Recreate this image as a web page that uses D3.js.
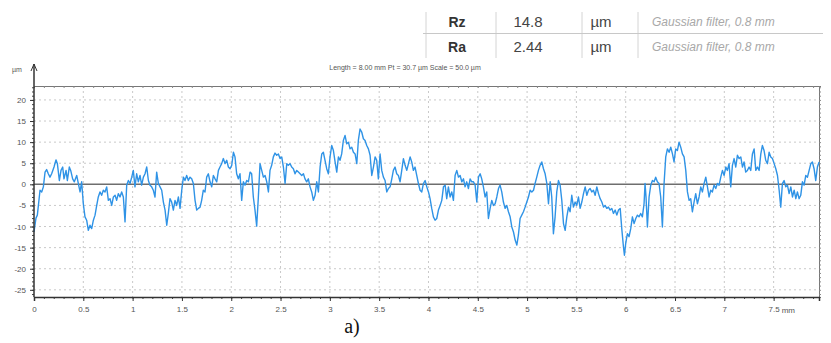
<!DOCTYPE html>
<html>
<head>
<meta charset="utf-8">
<script src="https://cdn.jsdelivr.net/npm/d3@7/dist/d3.min.js"></script>
<style>
  html, body { margin: 0; padding: 0; background: #fff; }
  svg { display: block; font-family: 'Liberation Sans', Arial, sans-serif; }
</style>
</head>
<body>
<div id="chart"></div>
<script>
// roughness profile: [position mm, height µm]
const profile = [
  [0.000,-11.3],[0.020,-8.0],[0.034,-7.3],[0.061,-1.4],[0.078,-1.8],[0.095,-0.6],[0.112,2.9],[0.128,3.5],[0.145,2.5],[0.162,1.7],
  [0.179,2.5],[0.203,4.1],[0.223,5.8],[0.237,4.9],[0.257,0.9],[0.274,3.3],[0.291,4.1],[0.304,1.3],[0.325,3.3],[0.338,0.9],
  [0.358,4.1],[0.372,3.3],[0.392,1.3],[0.409,0.6],[0.433,2.1],[0.453,-0.2],[0.467,-1.8],[0.483,0.6],[0.500,-4.6],[0.517,-7.7],
  [0.534,-8.5],[0.551,-10.9],[0.568,-9.7],[0.585,-10.5],[0.602,-8.5],[0.619,-7.3],[0.636,-5.0],[0.652,-3.0],[0.669,-1.8],[0.686,-2.6],
  [0.703,-1.4],[0.720,-1.8],[0.737,-0.6],[0.754,-3.8],[0.771,-3.4],[0.788,-5.0],[0.805,-3.0],[0.822,-2.6],[0.838,-3.8],[0.855,-2.2],
  [0.872,-3.0],[0.889,-1.8],[0.906,-3.0],[0.923,-8.9],[0.940,-0.2],[0.957,0.9],[0.974,0.2],[0.991,1.7],[1.007,3.3],[1.024,-0.6],
  [1.041,2.5],[1.058,0.6],[1.075,2.1],[1.092,-0.2],[1.109,1.7],[1.126,2.5],[1.143,4.1],[1.160,0.9],[1.176,-0.2],[1.193,-0.6],
  [1.210,-1.4],[1.227,-3.0],[1.244,2.9],[1.261,0.2],[1.278,-0.6],[1.295,-1.4],[1.312,-4.2],[1.329,-6.1],[1.346,-9.7],[1.362,-6.9],
  [1.379,-3.4],[1.396,-4.2],[1.413,-6.1],[1.430,-3.8],[1.447,-5.0],[1.464,-3.0],[1.481,-5.7],[1.498,-1.4],[1.515,1.7],[1.531,0.9],
  [1.548,2.1],[1.565,0.9],[1.582,1.7],[1.599,1.3],[1.616,0.2],[1.633,-3.8],[1.650,-6.1],[1.667,-5.7],[1.684,-5.4],[1.700,-3.8],
  [1.717,-1.4],[1.734,-1.8],[1.751,1.7],[1.768,2.5],[1.785,0.6],[1.802,-0.6],[1.819,2.1],[1.836,1.3],[1.853,0.6],[1.870,3.3],
  [1.886,4.1],[1.903,4.9],[1.920,6.1],[1.937,4.9],[1.954,5.7],[1.971,4.1],[1.988,3.7],
  [2.005,4.5],[2.022,7.6],[2.038,6.5],[2.055,2.5],[2.072,1.3],[2.089,2.5],[2.106,-3.8],[2.123,0.6],[2.140,-0.2],[2.157,0.9],
  [2.174,0.6],[2.191,2.9],[2.207,2.5],[2.224,-3.0],[2.241,-6.1],[2.258,-9.9],[2.275,-3.0],[2.292,4.9],[2.309,3.3],[2.326,1.7],
  [2.343,2.1],[2.360,0.6],[2.377,-1.8],[2.393,3.3],[2.410,4.5],[2.427,6.5],[2.444,7.4],[2.461,6.9],[2.478,7.2],[2.495,6.1],
  [2.512,6.5],[2.529,4.1],[2.546,0.2],[2.563,4.9],[2.579,4.5],[2.596,4.9],[2.613,4.1],[2.630,3.7],[2.647,2.5],[2.664,3.3],
  [2.681,2.9],[2.698,2.5],[2.715,2.1],[2.732,2.5],[2.748,1.3],[2.765,0.6],[2.782,1.3],[2.799,-0.6],[2.816,-1.8],[2.833,-3.8],
  [2.850,-2.6],[2.867,0.6],[2.884,-1.8],[2.901,4.1],[2.918,7.2],[2.934,7.6],[2.951,5.7],[2.968,3.7],[2.985,2.5],[3.002,6.5],
  [3.019,9.2],[3.036,8.0],[3.053,5.3],[3.070,2.9],[3.087,6.5],[3.103,5.7],[3.120,7.2],[3.137,10.4],[3.154,11.6],[3.171,9.6],
  [3.188,10.0],[3.205,8.4],[3.222,8.8],[3.239,7.6],[3.256,7.2],[3.273,4.9],[3.289,10.4],[3.306,13.1],[3.323,12.4],[3.340,10.8],
  [3.357,10.4],[3.374,9.2],[3.391,8.4],[3.408,6.9],[3.425,2.1],[3.442,4.1],[3.459,6.5],[3.475,5.7],[3.492,1.3],[3.509,7.2],
  [3.526,3.3],[3.543,1.7],[3.560,0.9],[3.577,-1.8],[3.594,-1.0],[3.611,-0.6],[3.628,1.3],[3.644,3.3],[3.661,4.1],[3.678,2.5],
  [3.695,2.1],[3.712,0.6],[3.729,3.3],[3.746,6.1],[3.763,4.5],[3.780,3.3],[3.797,4.9],[3.814,6.5],[3.830,5.3],[3.847,3.3],
  [3.864,4.1],[3.881,2.1],[3.898,0.2],[3.915,-1.4],[3.932,-1.8],[3.949,0.2],[3.966,0.9],
  [3.983,-0.6],[4.000,-1.8],[4.016,-3.4],[4.033,-5.7],[4.050,-7.7],[4.067,-8.5],[4.084,-8.1],[4.101,-6.1],[4.118,-5.0],[4.135,-3.8],
  [4.152,-0.6],[4.169,-0.2],[4.185,-3.4],[4.202,-0.6],[4.219,-3.0],[4.236,-1.8],[4.253,-3.8],[4.270,2.1],[4.287,3.3],[4.304,1.7],
  [4.321,2.1],[4.338,0.6],[4.355,1.3],[4.371,-0.6],[4.388,0.6],[4.405,-1.0],[4.422,1.3],[4.439,0.6],[4.456,0.6],[4.473,-0.2],
  [4.490,-4.2],[4.507,1.7],[4.524,2.5],[4.540,1.3],[4.557,-0.6],[4.574,-3.0],[4.591,-1.8],[4.608,-8.1],[4.625,-5.7],[4.642,-3.8],
  [4.659,-5.0],[4.676,-4.6],[4.693,-3.0],[4.710,-1.0],[4.726,-0.2],[4.743,-1.8],[4.760,-4.2],[4.777,-5.7],[4.794,-5.0],[4.811,-6.5],
  [4.828,-7.7],[4.845,-10.1],[4.862,-11.3],[4.879,-13.2],[4.896,-14.4],[4.912,-12.0],[4.929,-8.1],[4.946,-7.3],[4.963,-6.5],[4.980,-5.4],
  [4.997,-4.2],[5.014,-3.0],[5.031,-1.4],[5.048,-1.8],[5.065,-1.4],[5.081,0.2],[5.098,1.7],[5.115,3.3],[5.132,4.5],[5.149,5.3],
  [5.166,3.7],[5.183,2.5],[5.200,0.2],[5.217,-4.6],[5.234,0.6],[5.250,-3.0],[5.267,-11.7],[5.284,-7.7],[5.301,-1.8],[5.318,0.9],
  [5.335,-0.2],[5.352,-3.8],[5.369,-9.3],[5.386,-10.9],[5.403,-7.7],[5.420,-5.4],[5.436,-6.5],[5.453,-2.6],[5.470,-5.4],[5.487,-4.2],
  [5.504,-5.0],[5.521,-3.0],[5.538,-5.7],[5.555,-4.2],[5.572,-2.2],[5.589,-0.6],[5.606,-2.6],[5.622,-1.4],[5.639,-1.0],[5.656,-1.8],
  [5.673,-1.4],[5.690,-2.6],[5.707,-0.6],[5.724,-2.2],[5.741,-3.4],[5.758,-4.2],[5.775,-5.4],[5.791,-5.0],[5.808,-5.7],[5.825,-5.4],
  [5.842,-6.1],[5.859,-5.7],[5.876,-6.9],[5.893,-6.1],[5.910,-7.3],[5.927,-6.1],[5.944,-5.7],
  [5.960,-10.5],[5.977,-14.8],[5.987,-16.8],[6.000,-14.0],[6.017,-11.7],[6.034,-12.4],[6.051,-10.5],[6.068,-7.7],[6.085,-9.3],[6.102,-8.1],
  [6.119,-7.3],[6.135,-7.7],[6.152,-6.9],[6.169,-7.7],[6.186,-4.6],[6.196,0.2],[6.206,-3.0],[6.220,-10.1],[6.237,-3.0],[6.254,-0.2],
  [6.271,0.9],[6.288,0.6],[6.304,1.7],[6.321,0.6],[6.338,0.2],[6.355,-3.0],[6.372,-10.1],[6.389,0.2],[6.406,6.5],[6.423,8.4],
  [6.440,7.6],[6.457,8.8],[6.474,7.2],[6.490,5.3],[6.507,8.4],[6.524,8.0],[6.541,10.0],[6.558,8.8],[6.575,7.2],[6.592,6.5],
  [6.609,3.3],[6.626,-1.8],[6.643,-3.8],[6.659,-3.4],[6.676,-6.5],[6.693,-4.2],[6.710,-2.2],[6.727,-4.6],[6.744,-3.0],[6.761,-0.6],
  [6.778,-1.8],[6.795,0.2],[6.812,1.7],[6.829,-0.6],[6.845,-3.0],[6.862,-1.4],[6.879,-1.8],[6.896,-0.2],[6.913,-1.0],[6.930,0.2],
  [6.947,-0.2],[6.964,1.7],[6.981,3.3],[6.998,2.1],[7.015,4.1],[7.031,3.3],[7.048,4.9],[7.065,-0.6],[7.082,4.5],[7.099,6.1],
  [7.116,4.1],[7.133,6.9],[7.150,6.1],[7.167,6.5],[7.184,4.1],[7.200,5.3],[7.217,2.9],[7.234,3.3],[7.251,4.1],[7.268,3.3],
  [7.285,7.2],[7.302,8.4],[7.319,3.3],[7.336,4.1],[7.353,3.3],[7.370,7.2],[7.386,9.2],[7.403,8.0],[7.420,5.7],[7.437,4.9],
  [7.454,7.6],[7.471,6.5],[7.488,6.1],[7.505,4.9],[7.522,3.7],[7.539,2.1],[7.556,-1.4],[7.572,-5.4],[7.589,0.2],[7.606,0.9],
  [7.623,-0.6],[7.640,-0.2],[7.657,-2.2],[7.674,-0.6],[7.691,-3.0],[7.708,-1.4],[7.725,-3.4],[7.741,-1.8],[7.758,-3.4],[7.775,-2.6],
  [7.792,0.6],[7.809,-0.2],[7.826,2.1],[7.843,1.7],[7.860,3.3],[7.877,4.9],[7.893,5.3],[7.910,3.7],[7.927,0.9],[7.944,4.1],
  [7.961,5.3]
];

const xTicks = [0, 0.5, 1, 1.5, 2, 2.5, 3, 3.5, 4, 4.5, 5, 5.5, 6, 6.5, 7, 7.5];
const yTicks = [-25, -20, -15, -10, -5, 0, 5, 10, 15, 20];

// parameter table shown above the plot
const paramNames = ['Rz', 'Ra'];
const paramValues = ['14.8', '2.44'];
const paramUnits = ['µm', 'µm'];
const paramNotes = ['Gaussian filter, 0.8 mm', 'Gaussian filter, 0.8 mm'];

const headerText = 'Length = 8.00 mm  Pt = 30.7 µm  Scale = 50.0 µm';

const W = 831, H = 343;
const m = { left: 34, right: 819, top: 86, bottom: 297 };

const x = d3.scaleLinear().domain([0, 7.96]).range([m.left, m.right]);
const y = d3.scaleLinear().domain([-26.7, 23.3]).range([m.bottom, m.top]);

const svg = d3.select('#chart').append('svg').attr('width', W).attr('height', H);

// dotted grid
svg.append('g')
  .selectAll('line')
  .data(xTicks.filter((d) => d > 0))
  .join('line')
  .attr('x1', (d) => x(d)).attr('x2', (d) => x(d))
  .attr('y1', m.top).attr('y2', m.bottom)
  .attr('stroke', '#c9c9c9').attr('stroke-dasharray', '2,3');

svg.append('g')
  .selectAll('line')
  .data(yTicks.filter((d) => d !== 0))
  .join('line')
  .attr('x1', m.left).attr('x2', m.right)
  .attr('y1', (d) => y(d)).attr('y2', (d) => y(d))
  .attr('stroke', '#c9c9c9').attr('stroke-dasharray', '2,3');

// top and right frame with small ticks
svg.append('g')
  .attr('transform', `translate(0,${m.top})`)
  .call(d3.axisBottom(x).ticks(80).tickSize(2).tickFormat(''))
  .call((g) => g.select('.domain').attr('stroke', '#777'))
  .call((g) => g.selectAll('.tick line').attr('stroke', '#888'));

svg.append('g')
  .attr('transform', `translate(${m.right},0)`)
  .call(d3.axisRight(y).tickValues(d3.range(-26, 24, 1)).tickSize(2).tickFormat(''))
  .call((g) => g.select('.domain').attr('stroke', '#777'))
  .call((g) => g.selectAll('.tick line').attr('stroke', '#888'));

// zero line
svg.append('line')
  .attr('x1', m.left).attr('x2', m.right)
  .attr('y1', y(0)).attr('y2', y(0))
  .attr('stroke', '#6e6e6e').attr('stroke-width', 1.5);

// profile
const line = d3.line()
  .x((d) => x(d[0]))
  .y((d) => y(d[1]));

svg.append('path')
  .datum(profile)
  .attr('fill', 'none')
  .attr('stroke', '#2f93e6')
  .attr('stroke-width', 1.4)
  .attr('stroke-linejoin', 'round')
  .attr('d', line);

// bottom axis: minor then major ticks
svg.append('g')
  .attr('transform', `translate(0,${m.bottom})`)
  .call(d3.axisBottom(x).ticks(80).tickSize(2).tickFormat(''))
  .call((g) => g.select('.domain').remove())
  .call((g) => g.selectAll('.tick line').attr('stroke', '#444'));

const xAxis = svg.append('g')
  .attr('transform', `translate(0,${m.bottom})`)
  .call(d3.axisBottom(x).tickValues(xTicks).tickSize(4).tickPadding(5).tickFormat((d) => String(d)));
xAxis.select('.domain').attr('stroke', '#333').attr('stroke-width', 1.5);
xAxis.selectAll('.tick line').attr('stroke', '#333');
xAxis.selectAll('.tick text').attr('fill', '#555').style('font-size', '8px');

svg.append('text')
  .attr('x', x(7.5) + 8).attr('y', m.bottom + 16)
  .attr('fill', '#555').style('font-size', '8px')
  .text('mm');

// left axis
svg.append('g')
  .attr('transform', `translate(${m.left},0)`)
  .call(d3.axisLeft(y).tickValues(d3.range(-26, 24, 1)).tickSize(2).tickFormat(''))
  .call((g) => g.select('.domain').remove())
  .call((g) => g.selectAll('.tick line').attr('stroke', '#444'));

const yAxis = svg.append('g')
  .attr('transform', `translate(${m.left},0)`)
  .call(d3.axisLeft(y).tickValues(yTicks).tickSize(4).tickPadding(4).tickFormat((d) => String(d)));
yAxis.select('.domain').remove();
yAxis.selectAll('.tick line').attr('stroke', '#333');
yAxis.selectAll('.tick text').attr('fill', '#555').style('font-size', '8px');

// axis line running up to the arrow
svg.append('line')
  .attr('x1', m.left).attr('x2', m.left)
  .attr('y1', 64).attr('y2', m.bottom)
  .attr('stroke', '#333').attr('stroke-width', 1.5);
svg.append('path')
  .attr('d', `M${m.left - 3},71 L${m.left},64 L${m.left + 3},71`)
  .attr('fill', 'none').attr('stroke', '#333').attr('stroke-width', 1);

svg.append('text')
  .attr('x', 12).attr('y', 72)
  .attr('fill', '#555').style('font-size', '7px')
  .text('µm');

// header line
svg.append('text')
  .attr('x', 405).attr('y', 70)
  .attr('text-anchor', 'middle')
  .attr('fill', '#555').style('font-size', '7px')
  .text(headerText);

// table
const colX = [426, 496, 582, 638];
const table = svg.append('g');
table.selectAll('line.v')
  .data(colX)
  .join('line')
  .attr('x1', (d) => d).attr('x2', (d) => d)
  .attr('y1', 12).attr('y2', 58)
  .attr('stroke', '#d4d4d4');
table.append('line')
  .attr('x1', 423).attr('x2', 823)
  .attr('y1', 33.5).attr('y2', 33.5)
  .attr('stroke', '#c8c8c8');

const rowY = [27, 52];
paramNames.forEach((name, i) => {
  table.append('text').attr('x', 457).attr('y', rowY[i]).attr('text-anchor', 'middle')
    .attr('fill', '#333').style('font-size', '14px').style('font-weight', 'bold').text(name);
  table.append('text').attr('x', 528).attr('y', rowY[i]).attr('text-anchor', 'middle')
    .attr('fill', '#444').style('font-size', '15px').text(paramValues[i]);
  table.append('text').attr('x', 601).attr('y', rowY[i]).attr('text-anchor', 'middle')
    .attr('fill', '#444').style('font-size', '15px').text(paramUnits[i]);
  table.append('text').attr('x', 652).attr('y', rowY[i] - 1)
    .attr('fill', '#a8a8a8').style('font-size', '12px').style('font-style', 'italic').text(paramNotes[i]);
});

// caption
svg.append('text')
  .attr('x', 352).attr('y', 333)
  .attr('text-anchor', 'middle')
  .attr('fill', '#111')
  .style('font-family', "'Liberation Serif', 'Times New Roman', serif")
  .style('font-size', '20px')
  .text('a)');
</script>
</body>
</html>
